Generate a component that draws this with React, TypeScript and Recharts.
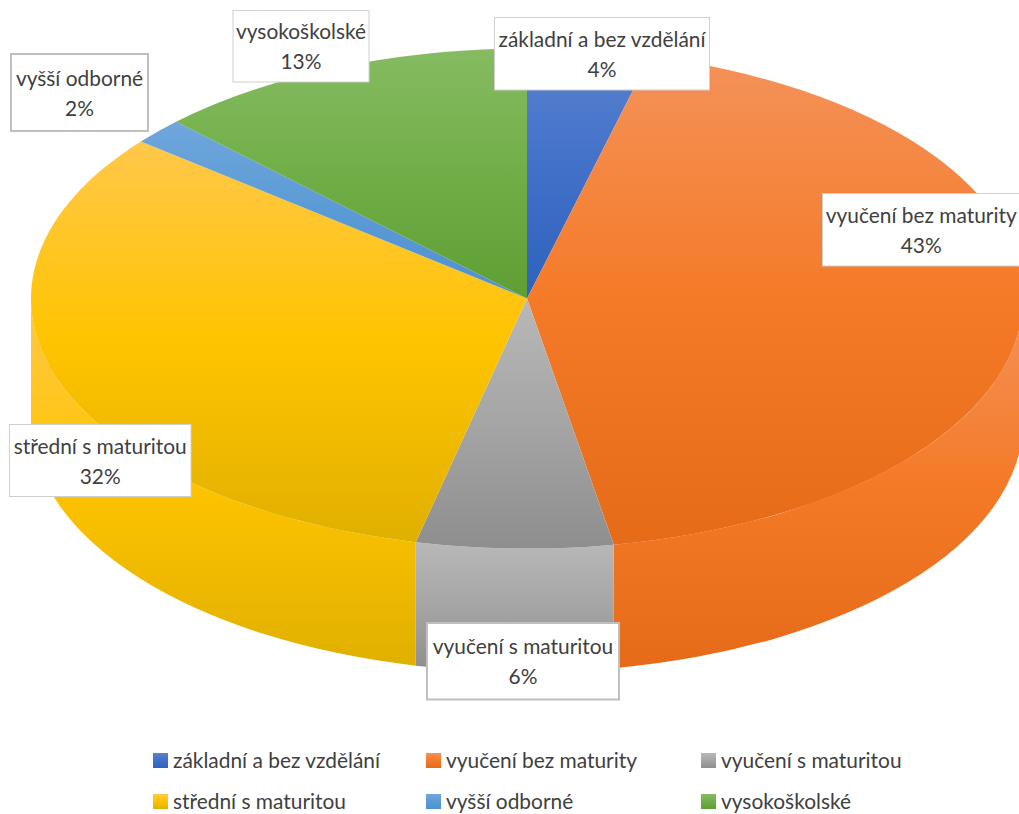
import React from 'react';
import { PieChart, Pie, Cell, Legend } from 'recharts';

const CATEGORIES = [
  'základní a bez vzdělání',
  'vyučení bez maturity',
  'vyučení s maturitou',
  'střední s maturitou',
  'vyšší odborné',
  'vysokoškolské',
];
const SHARES = [4.0, 43.2, 6.4, 32.2, 1.69, 12.51];

// light, base and dark stop of every slice
const LIGHT = ['#5A82CF', '#F4925A', '#B8B8B8', '#FFC84A', '#6FA6DC', '#86BB62'];
const BASE = ['#4070C8', '#F57A28', '#A5A5A5', '#FFC400', '#5B9BD5', '#70AF47'];
const DARK = ['#2E62BC', '#E56B18', '#8E8E8E', '#E0B000', '#4E90D0', '#5F9E33'];

// boxes of the data labels: left, top, right, bottom, border width
const LABEL_BOXES = [
  [494.5, 17.5, 709.5, 90, 1],
  [822.5, 193.5, 1020, 266, 1],
  [427, 623, 619, 699.5, 2],
  [9.5, 424.5, 191, 496.5, 1],
  [11, 54, 148, 131, 2],
  [233, 10.5, 369, 82, 1],
];

const FONT = 'Lato';
const FONT_SIZE = 20.9;
const TEXT_COLOR = '#404040';
const WIDTH = 1019;
const HEIGHT = 814;
const CX = 527;
const CY = 298.5;
const RX = 496;
const RY = 250;
const DEPTH = 123.5;

const data = CATEGORIES.map((name, i) => ({ name, value: SHARES[i] }));

const pt = (deg: number, dy = 0) => {
  const t = (deg * Math.PI) / 180;
  return `${CX + RX * Math.cos(t)} ${CY - RY * Math.sin(t) + dy}`;
};

function Slice3D(props: any) {
  const { startAngle, endAngle, index } = props;
  const i = index ?? props.payload?.index ?? CATEGORIES.indexOf(props.name);
  const large = startAngle - endAngle > 180 ? 1 : 0;
  const top = `M ${CX} ${CY} L ${pt(startAngle)} A ${RX} ${RY} 0 ${large} 1 ${pt(endAngle)} Z`;
  // the side wall only shows on the front half of the ellipse
  const hi = Math.min(startAngle, 0);
  const lo = Math.max(endAngle, -180);
  const wall =
    hi > lo
      ? `M ${pt(hi)} A ${RX} ${RY} 0 0 1 ${pt(lo)} L ${pt(lo, DEPTH)} A ${RX} ${RY} 0 0 0 ${pt(hi, DEPTH)} Z`
      : null;
  return (
    <g>
      {wall && <path d={wall} fill={`url(#slice-${i})`} />}
      <path d={top} fill={`url(#slice-${i})`} />
    </g>
  );
}

function DataLabel(props: any) {
  const { index, percent, name } = props;
  const [x0, y0, x1, y1, border] = LABEL_BOXES[index];
  const mid = (x0 + x1) / 2;
  const cy = (y0 + y1) / 2;
  return (
    <g>
      <rect x={x0} y={y0} width={x1 - x0} height={y1 - y0} fill="#fff" stroke={border > 1 ? '#BFBFBF' : '#D0D0D0'} strokeWidth={border} />
      <text x={mid} y={cy - 7} textAnchor="middle" fontFamily={FONT} fontSize={FONT_SIZE} fill={TEXT_COLOR}>
        {name}
      </text>
      <text x={mid} y={cy + 23} textAnchor="middle" fontFamily={FONT} fontSize={FONT_SIZE} fill={TEXT_COLOR}>
        {Math.round(percent * 100)}%
      </text>
    </g>
  );
}

const LEGEND_COLUMNS = [153, 426, 701];
const LEGEND_ROWS = [753, 794];

function LegendBlock() {
  return (
    <div style={{ position: 'relative', width: WIDTH, height: HEIGHT }}>
      {CATEGORIES.map((name, i) => {
        const left = LEGEND_COLUMNS[i % 3];
        const top = LEGEND_ROWS[Math.floor(i / 3)];
        return (
          <div key={name}>
            <div
              style={{
                position: 'absolute',
                left,
                top,
                width: 14.5,
                height: 15,
                background: `linear-gradient(${LIGHT[i]}, ${BASE[i]} 50%, ${DARK[i]})`,
              }}
            />
            <div
              style={{
                position: 'absolute',
                left: left + 20,
                top: top - 6,
                fontFamily: FONT,
                fontSize: FONT_SIZE,
                lineHeight: '26px',
                color: TEXT_COLOR,
                whiteSpace: 'nowrap',
              }}
            >
              {name}
            </div>
          </div>
        );
      })}
    </div>
  );
}

export default function App() {
  return (
    <div style={{ position: 'absolute', left: 0, top: 0, width: WIDTH, height: HEIGHT, overflow: 'hidden' }}>
      <PieChart width={WIDTH} height={HEIGHT} margin={{ top: 0, right: 0, bottom: 0, left: 0 }}>
        <defs>
          {CATEGORIES.map((name, i) => (
            <linearGradient key={name} id={`slice-${i}`} x1="0" y1="0" x2="0" y2="1">
              <stop offset="0%" stopColor={LIGHT[i]} />
              <stop offset="50%" stopColor={BASE[i]} />
              <stop offset="100%" stopColor={DARK[i]} />
            </linearGradient>
          ))}
        </defs>
        <Pie
          data={data}
          dataKey="value"
          nameKey="name"
          cx={CX}
          cy={CY}
          innerRadius={0}
          outerRadius={RX}
          startAngle={90}
          endAngle={-270}
          paddingAngle={0}
          stroke="none"
          shape={Slice3D}
          label={DataLabel}
          labelLine={false}
          isAnimationActive={false}
        >
          {CATEGORIES.map((name, i) => (
            <Cell key={name} fill={BASE[i]} />
          ))}
        </Pie>
        <Legend content={LegendBlock} wrapperStyle={{ left: 0, top: 0, width: WIDTH, height: HEIGHT, pointerEvents: 'none' }} />
      </PieChart>
    </div>
  );
}
